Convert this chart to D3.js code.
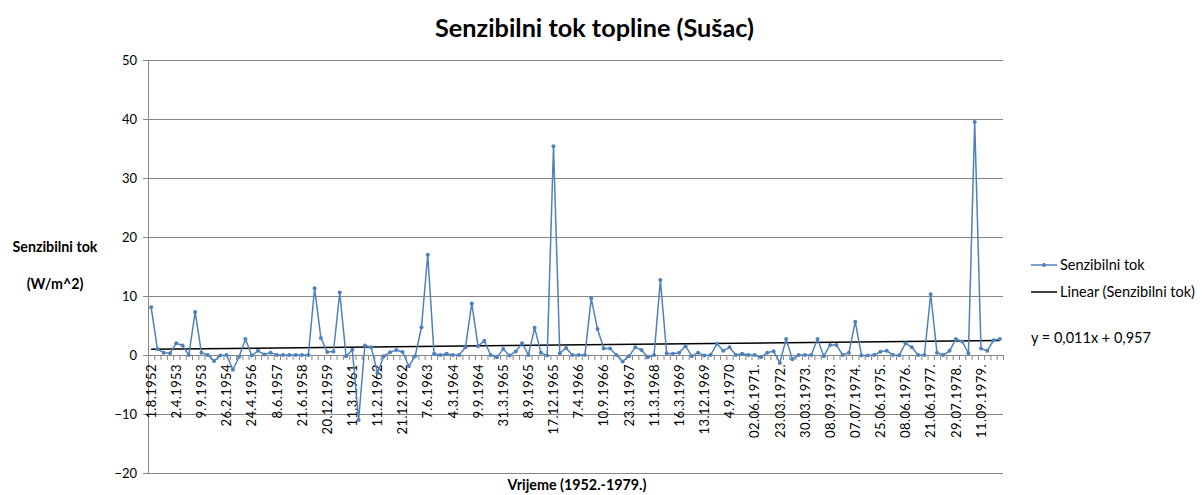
<!DOCTYPE html>
<html>
<head>
<meta charset="utf-8">
<script src="https://cdn.jsdelivr.net/npm/d3@7"></script>
<style>
html,body{margin:0;padding:0;background:#fff;}
svg{display:block;}
text{font-family:Lato, "Open Sans", sans-serif;fill:#000;}
</style>
</head>
<body>
<svg id="chart" width="1202" height="495"></svg>
<script>
// ---------- data ----------
const values = [
  8.1, 1.0, 0.4, 0.3, 2.0, 1.6, 0.0, 7.3, 0.4, 0.0,
  -1.0, -0.1, 0.0, -2.5, -0.3, 2.7, -0.1, 0.7, 0.1, 0.4,
  0.0, 0.0, 0.0, 0.0, 0.0, 0.0, 11.3, 2.9, 0.5, 0.6,
  10.6, -0.2, 0.9, -11.0, 1.6, 1.3, -3.0, -0.2, 0.45, 0.85,
  0.5, -1.9, -0.2, 4.7, 17.0, 0.2, 0.0, 0.2, 0.0, 0.0,
  1.3, 8.75, 1.5, 2.4, 0.0, -0.4, 1.0, -0.1, 0.6, 2.0,
  0.0, 4.6, 0.4, -0.1, 35.4, 0.3, 1.2, 0.0, 0.0, 0.0,
  9.6, 4.4, 1.1, 1.1, 0.0, -1.1, -0.2, 1.3, 0.85, -0.4,
  0.0, 12.7, 0.3, 0.2, 0.4, 1.5, -0.2, 0.4, -0.1, 0.0,
  1.9, 0.7, 1.3, 0.0, 0.2, 0.0, 0.0, -0.4, 0.4, 0.65,
  -1.35, 2.7, -0.7, 0.0, 0.0, 0.0, 2.7, -0.2, 1.7, 1.7,
  0.0, 0.4, 5.65, -0.1, -0.1, 0.0, 0.55, 0.7, 0.0, -0.05,
  2.0, 1.3, 0.0, 0.0, 10.3, 0.4, 0.0, 0.7, 2.7, 2.3,
  0.3, 39.5, 1.1, 0.7, 2.5, 2.7
];
const labelEvery = 4;
const dateLabels = [
  "1.8.1952", "2.4.1953", "9.9.1953", "26.2.1954", "24.4.1956", "8.6.1957",
  "21.6.1958", "20.12.1959", "11.3.1961", "11.2.1962", "21.12.1962", "7.6.1963",
  "4.3.1964", "9.9.1964", "31.3.1965", "8.9.1965", "17.12.1965", "7.4.1966",
  "10.9.1966", "23.3.1967", "11.3.1968", "16.3.1969", "13.12.1969", "4.9.1970",
  "02.06.1971.", "23.03.1972.", "30.03.1973.", "08.09.1973.", "07.07.1974.",
  "25.06.1975.", "08.06.1976.", "21.06.1977.", "29.07.1978.", "11.09.1979."
];
const yTicks = [-20, -10, 0, 10, 20, 30, 40, 50];
const trendSlope = 0.011;
const trendIntercept = 0.957;
const titleText = "Senzibilni tok topline (Sušac)";
const yTitle1 = "Senzibilni tok";
const yTitle2 = "(W/m^2)";
const xTitle = "Vrijeme (1952.-1979.)";
const seriesName = "Senzibilni tok";
const trendName = "Linear (Senzibilni tok)";
const equationText = "y = 0,011x + 0,957";

// ---------- layout ----------
const L = 148, R = 1003, T = 60, B = 473;
const lineColor = "#4f81bd";
const gridColor = "#868686";

const svg = d3.select("#chart");
const idx = d3.range(values.length);

const x = d3.scaleBand().domain(idx).range([L, R]).padding(0);
const xEdge = d3.scaleLinear().domain([0, values.length]).range([L, R]);
const y = d3.scaleLinear().domain([-20, 50]).range([B, T]);
const cx = i => x(i) + x.bandwidth() / 2;

function fitWidth(sel, w) {
  const len = sel.node().getComputedTextLength();
  const fs = parseFloat(sel.attr("font-size"));
  sel.attr("font-size", (fs * w / len).toFixed(2));
}

// gridlines
svg.append("g")
  .attr("transform", `translate(${L},0)`)
  .call(d3.axisLeft(y).tickValues(yTicks).tickSize(-(R - L)).tickFormat(""))
  .call(g => g.select(".domain").remove())
  .call(g => g.selectAll("line").attr("stroke", gridColor).attr("stroke-width", 1));

// y axis
const yAxis = svg.append("g")
  .attr("transform", `translate(${L},0)`)
  .call(d3.axisLeft(y).tickValues(yTicks).tickSize(5).tickPadding(6));
yAxis.select(".domain").attr("stroke", gridColor);
yAxis.selectAll("line").attr("stroke", gridColor);
yAxis.selectAll("text").attr("font-size", 13).attr("font-family", "Lato").attr("fill", "#222");

// x axis (category boundaries) at y=0
const xAxis = svg.append("g")
  .attr("transform", `translate(0,${y(0)})`)
  .call(d3.axisBottom(xEdge).tickValues(d3.range(values.length + 1)).tickSize(5).tickFormat(""));
xAxis.select(".domain").attr("stroke", gridColor);
xAxis.selectAll("line").attr("stroke", gridColor);

// x labels
const labelIdx = dateLabels.map((d, k) => k * labelEvery);
const xLab = svg.append("g")
  .attr("transform", `translate(0,${y(0) + 9})`)
  .call(d3.axisBottom(x).tickValues(labelIdx).tickSize(0)
        .tickFormat(i => dateLabels[i / labelEvery]));
xLab.select(".domain").remove();
xLab.selectAll("text")
  .attr("font-size", 13).attr("font-family", "Lato").attr("fill", "#222")
  .attr("letter-spacing", "0.4px")
  .attr("text-anchor", "end")
  .attr("transform", "rotate(-90)")
  .attr("x", 0).attr("y", 0).attr("dy", "0.36em");

// trend line
const trend = d3.line().x(d => cx(d)).y(d => y(trendSlope * (d + 1) + trendIntercept));
svg.append("path")
  .datum([0, values.length - 1])
  .attr("d", trend)
  .attr("fill", "none").attr("stroke", "#000").attr("stroke-width", 1.5);

// series line
const line = d3.line().x((d, i) => cx(i)).y(d => y(d));
svg.append("path")
  .datum(values)
  .attr("d", line)
  .attr("fill", "none").attr("stroke", lineColor).attr("stroke-width", 1.5)
  .attr("stroke-linejoin", "round");
svg.append("g").selectAll("circle")
  .data(values).join("circle")
  .attr("cx", (d, i) => cx(i)).attr("cy", d => y(d))
  .attr("r", 2).attr("fill", lineColor);

// title
const tt = svg.append("text").text(titleText)
  .attr("x", 594.5).attr("y", 37).attr("text-anchor", "middle")
  .attr("font-size", 22).attr("font-weight", "bold");
fitWidth(tt, 319);

// y axis title
const yt1 = svg.append("text").text(yTitle1)
  .attr("x", 55).attr("y", 252).attr("text-anchor", "middle")
  .attr("font-size", 13).attr("font-weight", "bold");
fitWidth(yt1, 85);
const yt2 = svg.append("text").text(yTitle2)
  .attr("x", 55).attr("y", 289).attr("text-anchor", "middle")
  .attr("font-size", +yt1.attr("font-size")).attr("font-weight", "bold");

// x axis title
const xt = svg.append("text").text(xTitle)
  .attr("x", 577).attr("y", 490).attr("text-anchor", "middle")
  .attr("font-size", 12).attr("font-weight", "bold");
fitWidth(xt, 139);

// legend
const lg = svg.append("g");
lg.append("line").attr("x1", 1031).attr("x2", 1057).attr("y1", 265).attr("y2", 265)
  .attr("stroke", lineColor).attr("stroke-width", 1.5);
lg.append("circle").attr("cx", 1044).attr("cy", 265).attr("r", 2).attr("fill", lineColor);
lg.append("line").attr("x1", 1031).attr("x2", 1057).attr("y1", 292).attr("y2", 292)
  .attr("stroke", "#000").attr("stroke-width", 1.5);
const l2 = lg.append("text").text(trendName).attr("x", 1060).attr("y", 296.5).attr("font-size", 13);
fitWidth(l2, 135);
const fsL = +l2.attr("font-size");
lg.append("text").text(seriesName).attr("x", 1060).attr("y", 269.5).attr("font-size", fsL);
svg.append("text").text(equationText).attr("x", 1031).attr("y", 342.5).attr("font-size", fsL);
</script>
</body>
</html>
